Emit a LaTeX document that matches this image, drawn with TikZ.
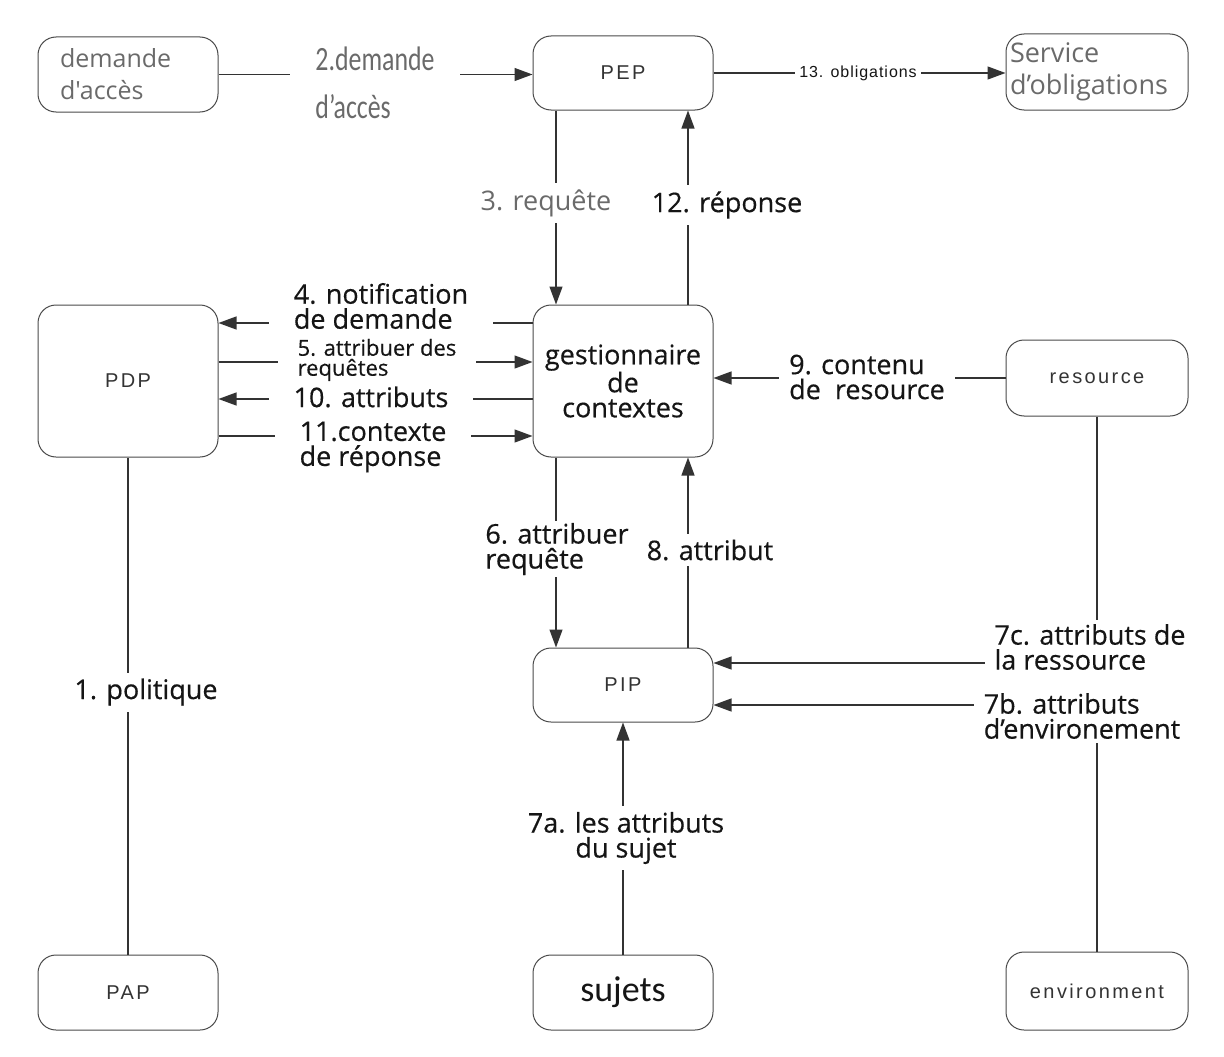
\documentclass[tikz,border=0pt]{standalone}
\usepackage{fontspec}
\setmainfont{Open Sans}
\newfontfamily\lblfont{Open Sans}[FakeBold=0.4]
\newfontfamily\greyfont{Open Sans}
\newfontfamily\boxfont{Liberation Sans}[LetterSpace=12]
\newfontfamily\smallfont{Liberation Sans}[LetterSpace=6]
\newfontfamily\narrowfont{Carlito}
\usetikzlibrary{arrows.meta}
\definecolor{boxc}{HTML}{4A4A4A}
\definecolor{linec}{HTML}{333333}
\definecolor{lblc}{HTML}{151515}
\definecolor{greyc}{HTML}{6A6A6A}
\definecolor{txtc}{HTML}{333333}
\begin{document}
\begin{tikzpicture}[x=1pt,y=-1pt,
  box/.style={draw=boxc, line width=1pt, rounded corners=18pt, minimum width=180pt,
    minimum height=75pt, inner sep=0pt, font=\boxfont\fontsize{20}{24}\selectfont, text=txtc},
  conn/.style={draw=linec, line width=1.3pt},
  arr/.style={conn, -{Triangle[length=18pt,width=13pt]}},
  lbl/.style={fill=white, inner xsep=0pt, inner ysep=3pt,
    font=\lblfont\fontsize{27}{25}\selectfont, text=lblc, align=left},
]
\useasboundingbox (0,0) rectangle (1224,1057);

% boxes
\node[box, text width=136pt, inner xsep=22pt, align=left,
  font=\greyfont\fontsize{25}{32}\selectfont, text=greyc] (dem) at (128,74.5) {demande\\d'accès};
\node[box, minimum height=74pt] (PEP) at (623,73) {PEP};
\node[box, minimum width=182pt, minimum height=76pt, text width=174pt, inner xsep=4pt, align=left,
  font=\greyfont\fontsize{27}{32}\selectfont, text=greyc] (serv) at (1097,72) {Service\\d’obligations};
\node[box, minimum height=152pt] (PDP) at (128,381) {PDP};
\node[box, minimum height=152pt, align=center, text=lblc,
  font=\lblfont\fontsize{27}{25}\selectfont] (gest) at (623,381) {gestionnaire\\de\\contextes};
\node[box, minimum width=182pt, minimum height=76pt] (res) at (1097,378) {resource};
\node[box, minimum height=74pt] (PIP) at (623,685) {PIP};
\node[box] (PAP) at (128,992.5) {PAP};
\node[box, font=\narrowfont\fontsize{36}{40}\selectfont, text=lblc] (suj) at (623,992.5) {sujets};
\node[box, minimum width=182pt, minimum height=78pt] (env) at (1097,991) {environment};

% connectors
\draw[arr] (dem.east) -- (dem.east -| PEP.west);
\draw[arr] (PEP.east) -- (PEP.east -| serv.west);
\draw[arr] ([xshift=-67pt]PEP.south) -- ([xshift=-67pt]gest.north);
\draw[arr] ([xshift=65pt]gest.north) -- ([xshift=65pt]PEP.south);
\draw[arr] ([yshift=58pt]gest.west) -- ([yshift=58pt]PDP.east);
\draw[arr] ([yshift=19pt]PDP.east) -- ([yshift=19pt]gest.west);
\draw[arr] ([yshift=-18pt]gest.west) -- ([yshift=-18pt]PDP.east);
\draw[arr] ([yshift=-55pt]PDP.east) -- ([yshift=-55pt]gest.west);
\draw[arr] (res.west) -- (res.west -| gest.east);
\draw[arr] ([xshift=-67pt]gest.south) -- ([xshift=-67pt]PIP.north);
\draw[arr] ([xshift=65pt]PIP.north) -- ([xshift=65pt]gest.south);
\draw[arr] (res.south) |- ([yshift=22pt]PIP.east);
\draw[arr] (env.north) |- ([yshift=-20pt]PIP.east);
\draw[arr] (suj.north) -- (PIP.south);
\draw[conn] (PAP.north) -- (PDP.south);

% labels
\node[lbl, inner xsep=25pt, text=greyc] (l2) at (375,85)
  {\fontsize{34}{48}\selectfont\narrowfont\scalebox{0.76}[1]{\begin{tabular}{@{}l@{}}2.demande\\d’accès\end{tabular}}};
\node[lbl, inner xsep=4pt, font=\smallfont\fontsize{16}{18}\selectfont, text=lblc] (l13) at (858,73) {13. obligations};
\node[lbl, text=greyc, inner ysep=6pt, font=\greyfont\fontsize{27}{25}\selectfont] (l3) at (546,203) {3. requête};
\node[lbl, inner ysep=6pt] (l12) at (727,205) {12. réponse};
\node[lbl, inner xsep=25pt, inner ysep=0pt] (l4) at (381,306) {4. notification\\de demande};
\node[lbl, inner xsep=20pt, inner ysep=0pt, font=\lblfont\fontsize{22}{20}\selectfont] (l5) at (377,360) {5. attribuer des\\requêtes};
\node[lbl, inner xsep=25pt, inner ysep=2pt] (l10) at (371,397) {10. attributs};
\node[lbl, inner xsep=25pt, inner ysep=0pt] (l11) at (373,447) {11.contexte\\de réponse};
\node[lbl, inner xsep=10pt, inner ysep=0pt] (l9) at (867,377) {9. contenu\\de\ \ resource};
\node[lbl, inner ysep=2pt] (l6) at (557,549) {6. attribuer\\requête};
\node[lbl, inner ysep=6pt] (l8) at (710,550) {8. attribut};
\node[lbl, inner xsep=10pt, inner ysep=4pt] (l7c) at (1090,647) {7c. attributs de\\la ressource};
\node[lbl, inner xsep=10pt, inner ysep=4pt] (l7b) at (1082,716) {7b. attributs\\d’environement};
\node[lbl, align=center, inner ysep=6pt] (l7a) at (626,838) {7a. les attributs\\du sujet};
\node[lbl, inner ysep=6pt] (l1) at (146,692) {1. politique};
\end{tikzpicture}
\end{document}
